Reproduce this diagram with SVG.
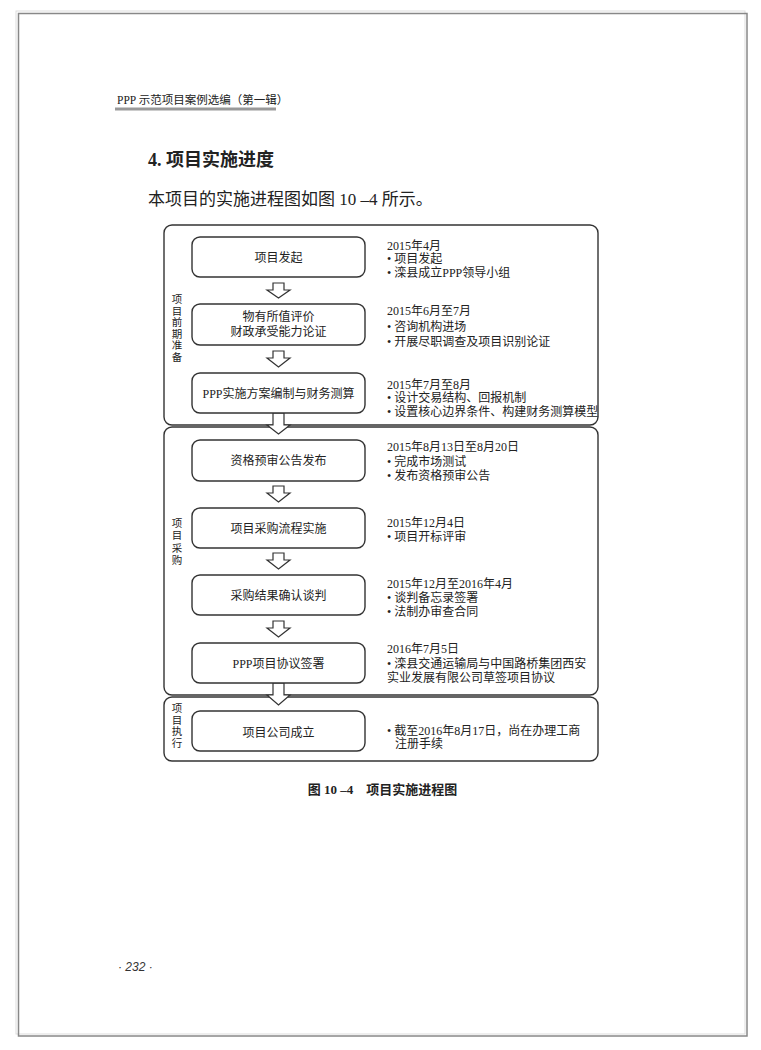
<svg xmlns="http://www.w3.org/2000/svg" width="761" height="1050" viewBox="0 0 761 1050">
<style>
.t{font-family:"Liberation Serif","Noto Sans CJK SC",serif;fill:#222;font-size:12px}
.c{text-anchor:middle}
.v{font-size:10.5px}
.grp{fill:none;stroke:#333;stroke-width:1.4}
.node{fill:#fff;stroke:#333;stroke-width:1.4}
.arr{fill:#fff;stroke:#333;stroke-width:1.2;stroke-linejoin:miter}
</style>
<rect width="761" height="1050" fill="#fff"/>
<rect x="16" y="11" width="729" height="1023" fill="none" stroke="#ddd" stroke-width="1"/>
<rect x="18.5" y="13.5" width="728.5" height="1022.5" fill="none" stroke="#888" stroke-width="1.5"/>

<g id="header">
<text class="t" x="117" y="104" style="font-size:11.5px">PPP 示范项目案例选编（第一辑）</text>
<rect x="115" y="107.5" width="161" height="3" fill="#999"/>
<text class="t" x="148" y="166" style="font-size:18px;font-weight:bold">4. 项目实施进度</text>
<text class="t" x="148" y="205" style="font-size:17px">本项目的实施进程图如图 10 –4 所示。</text>
</g>

<g id="groups">
<rect class="grp" x="164" y="225" width="434" height="200" rx="8"/>
<rect class="grp" x="164" y="427" width="434" height="268" rx="8"/>
<rect class="grp" x="164" y="697" width="434" height="64" rx="8"/>
<text class="t c v" x="177" y="303"><tspan x="177">项</tspan><tspan x="177" dy="11.5">目</tspan><tspan x="177" dy="11.5">前</tspan><tspan x="177" dy="11.5">期</tspan><tspan x="177" dy="11.5">准</tspan><tspan x="177" dy="11.5">备</tspan></text>
<text class="t c v" x="177" y="527"><tspan x="177">项</tspan><tspan x="177" dy="12.3">目</tspan><tspan x="177" dy="12.3">采</tspan><tspan x="177" dy="12.3">购</tspan></text>
<text class="t c v" x="177" y="712"><tspan x="177">项</tspan><tspan x="177" dy="11.7">目</tspan><tspan x="177" dy="11.7">执</tspan><tspan x="177" dy="11.7">行</tspan></text>
</g>

<g id="connectors">
<polygon class="arr" points="273,283 284,283 284,290 290,290 278.5,298 267,290 273,290"/>
<polygon class="arr" points="273,351 284,351 284,358 290,358 278.5,367 267,358 273,358"/>
<polygon class="arr" points="273,413 284,413 284,425 290,425 278.5,434 267,425 273,425"/>
<polygon class="arr" points="273,486 284,486 284,493 290,493 278.5,502 267,493 273,493"/>
<polygon class="arr" points="273,553 284,553 284,560 290,560 278.5,569 267,560 273,560"/>
<polygon class="arr" points="273,621 284,621 284,628 290,628 278.5,637 267,628 273,628"/>
<polygon class="arr" points="273,683 284,683 284,695 290,695 278.5,705 267,695 273,695"/>
</g>

<g id="n1">
<rect class="node" x="192" y="237" width="173" height="40" rx="8"/>
<text class="t c" x="278.5" y="261.5">项目发起</text>
<text class="t" x="387" y="249.5">2015年4月</text>
<text class="t" x="387" y="263">• 项目发起</text>
<text class="t" x="387" y="276.5">• 滦县成立PPP领导小组</text>
</g>
<g id="n2">
<rect class="node" x="192" y="304" width="173" height="41" rx="8"/>
<text class="t c" x="278.5" y="321">物有所值评价</text>
<text class="t c" x="278.5" y="335.5">财政承受能力论证</text>
<text class="t" x="387" y="314.5">2015年6月至7月</text>
<text class="t" x="387" y="331">• 咨询机构进场</text>
<text class="t" x="387" y="345.5">• 开展尽职调查及项目识别论证</text>
</g>
<g id="n3">
<rect class="node" x="192" y="373" width="173" height="40" rx="8"/>
<text class="t c" x="278.5" y="397.5">PPP实施方案编制与财务测算</text>
<text class="t" x="387" y="388.5">2015年7月至8月</text>
<text class="t" x="387" y="401.5">• 设计交易结构、回报机制</text>
<text class="t" x="387" y="415.5">• 设置核心边界条件、构建财务测算模型</text>
</g>
<g id="n4">
<rect class="node" x="192" y="440" width="173" height="41" rx="8"/>
<text class="t c" x="278.5" y="464.5">资格预审公告发布</text>
<text class="t" x="387" y="450.5">2015年8月13日至8月20日</text>
<text class="t" x="387" y="465.5">• 完成市场测试</text>
<text class="t" x="387" y="479.5">• 发布资格预审公告</text>
</g>
<g id="n5">
<rect class="node" x="192" y="508" width="173" height="40" rx="8"/>
<text class="t c" x="278.5" y="532.5">项目采购流程实施</text>
<text class="t" x="387" y="526.5">2015年12月4日</text>
<text class="t" x="387" y="540.5">• 项目开标评审</text>
</g>
<g id="n6">
<rect class="node" x="192" y="575" width="173" height="40" rx="8"/>
<text class="t c" x="278.5" y="599.5">采购结果确认谈判</text>
<text class="t" x="387" y="587.5">2015年12月至2016年4月</text>
<text class="t" x="387" y="601.5">• 谈判备忘录签署</text>
<text class="t" x="387" y="615.5">• 法制办审查合同</text>
</g>
<g id="n7">
<rect class="node" x="192" y="643" width="173" height="40" rx="8"/>
<text class="t c" x="278.5" y="667.5">PPP项目协议签署</text>
<text class="t" x="387" y="652.5">2016年7月5日</text>
<text class="t" x="387" y="667.5">• 滦县交通运输局与中国路桥集团西安</text>
<text class="t" x="387" y="681.5">实业发展有限公司草签项目协议</text>
</g>
<g id="n8">
<rect class="node" x="192" y="711" width="173" height="40" rx="8"/>
<text class="t c" x="278.5" y="736.5">项目公司成立</text>
<text class="t" x="387" y="734.5">• 截至2016年8月17日，尚在办理工商</text>
<text class="t" x="395" y="748">注册手续</text>
</g>

<g id="caption">
<text class="t c" x="382.5" y="794" style="font-size:13px;font-weight:bold">图 10 –4　项目实施进程图</text>
<text x="118" y="971" style="font-family:'Liberation Sans',sans-serif;font-style:italic;font-size:12px;fill:#333">· 232 ·</text>
</g>
</svg>
